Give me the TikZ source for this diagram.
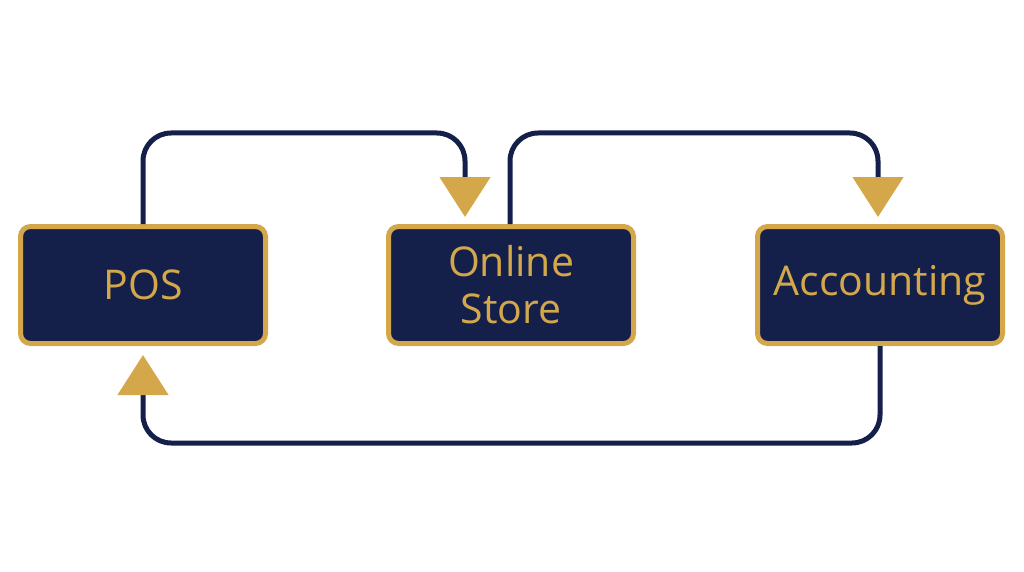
\documentclass[tikz,border=0pt]{standalone}
\usepackage{fontspec}
\setmainfont{Open Sans}
\usetikzlibrary{arrows.meta}
\definecolor{navy}{HTML}{14204A}
\definecolor{gold}{HTML}{D4A84A}
\begin{document}
\begin{tikzpicture}[x=1pt,y=-1pt,
  box/.style={draw=gold,fill=navy,line width=5pt,rounded corners=10pt,minimum width=245pt,minimum height=117pt,text=gold,font=\fontsize{41}{47}\selectfont,align=center},
  link/.style={draw=navy,line width=5pt,rounded corners=28pt,-{Triangle[width=50pt,length=40pt,color=gold]}}]
\useasboundingbox (0,0) rectangle (1024,572);
\node[box] (pos) at (143,285) {POS};
\node[box] (store) at (511,285) {Online\\Store};
\node[box] (acc) at (880,285) {Accounting};
\coordinate (t1) at (465,217);
\coordinate (t2) at (878,217);
\coordinate (t3) at (143,355);
\draw[link] (store.north east-|510,0) -- (510,133) -- (878,133) -- (t2);
\draw[link] (pos.north) -- (143,133) -- (465,133) -- (t1);
\draw[link] (acc.south) -- (880,443) -- (143,443) -- (t3);
\end{tikzpicture}
\end{document}
